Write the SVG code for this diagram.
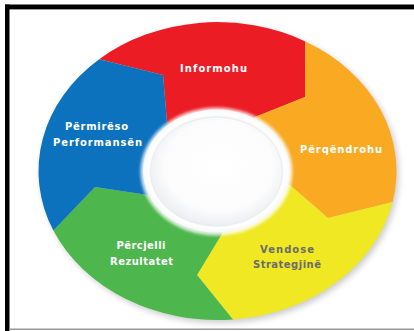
<svg xmlns="http://www.w3.org/2000/svg" width="414" height="331" viewBox="0 0 414 331">
  <style>
    .lbl { font-family: "DejaVu Sans", "Liberation Sans", sans-serif; font-weight: bold; font-size: 10px; text-anchor: middle; fill: #ffffff; }
    .dark { fill: #6b6b6b; }
  </style>
  <defs>
    <filter id="blur3" x="-20%" y="-20%" width="140%" height="140%"><feGaussianBlur stdDeviation="3"/></filter>
    <filter id="blur2" x="-20%" y="-20%" width="140%" height="140%"><feGaussianBlur stdDeviation="1.5"/></filter>
    <radialGradient id="disk" cx="52%" cy="45%" r="55%">
      <stop offset="0" stop-color="#ffffff"/>
      <stop offset="0.75" stop-color="#fcfcfd"/>
      <stop offset="1" stop-color="#eceef1"/>
    </radialGradient>
    <radialGradient id="rim" cx="50%" cy="50%" r="50%">
      <stop offset="0.86" stop-color="#eef0f2"/>
      <stop offset="0.93" stop-color="#ffffff"/>
      <stop offset="1" stop-color="#f6f7f8"/>
    </radialGradient>
  </defs>

  <rect width="414" height="331" fill="#ffffff"/>

  <!-- frame -->
  <rect x="5" y="4.5" width="409" height="4.5" fill="#000000"/>
  <rect x="9" y="9" width="405" height="1" fill="#9a9a9a"/>
  <rect x="5" y="4.5" width="4.5" height="326.5" fill="#000000"/>
  <rect x="9.5" y="328.5" width="404.5" height="1.5" fill="#9a9a9a"/>

  <!-- soft shadow of ring -->
  <ellipse cx="220" cy="174" rx="179" ry="149" fill="#000000" opacity="0.2" filter="url(#blur3)"/>

  <g id="informohu">
    <path d="M99.2,59.2 A179,149 0 0 1 305.4,41.4 L305,97 L255,117 L217,171 L167,122 L163,75 Z" fill="#ec1c24"/>
    <text class="lbl" x="213.5" y="71.5" textLength="67" lengthAdjust="spacing">Informohu</text>
  </g>
  <g id="perqendrohu">
    <path d="M305.4,41.4 A179,149 0 0 1 392.6,202.1 L328,218 L290,185 L217,171 L255,117 L305,97 Z" fill="#f9a922"/>
    <text class="lbl" x="341" y="152.5" textLength="82" lengthAdjust="spacing">Përqëndrohu</text>
  </g>
  <g id="vendose-strategjine">
    <path d="M392.6,202.1 A179,149 0 0 1 232.9,319.4 L197,275 L223,232 L217,171 L290,185 L328,218 Z" fill="#efe823"/>
    <text class="lbl dark" x="287" y="252.5" textLength="54" lengthAdjust="spacing">Vendose</text>
    <text class="lbl dark" x="287" y="268" textLength="68" lengthAdjust="spacing">Strategjinë</text>
  </g>
  <g id="percjelli-rezultatet">
    <path d="M232.9,319.4 A179,149 0 0 1 53.4,230.6 L95,187 L148,195 L217,171 L223,232 L197,275 Z" fill="#4db64c"/>
    <text class="lbl" x="141" y="249" textLength="49" lengthAdjust="spacing">Përcjelli</text>
    <text class="lbl" x="141.5" y="265" textLength="63" lengthAdjust="spacing">Rezultatet</text>
  </g>
  <g id="permireso-performansen">
    <path d="M53.4,230.6 A179,149 0 0 1 99.2,59.2 L163,75 L167,122 L217,171 L148,195 L95,187 Z" fill="#0c72bd"/>
    <text class="lbl" x="96.5" y="130" textLength="63" lengthAdjust="spacing">Përmirëso</text>
    <text class="lbl" x="97.5" y="145.5" textLength="89" lengthAdjust="spacing">Performansën</text>
  </g>

  <g id="center">
    <ellipse cx="216.5" cy="171.5" rx="76" ry="64" fill="#ffffff" opacity="0.8" filter="url(#blur2)"/>
    <ellipse cx="216.5" cy="171" rx="73.5" ry="61.5" fill="url(#rim)"/>
    <ellipse cx="216.5" cy="171.5" rx="66" ry="54.5" fill="url(#disk)" stroke="#e8e9ec" stroke-width="0.8"/>
  </g>

  <g id="connectors"/>
</svg>
